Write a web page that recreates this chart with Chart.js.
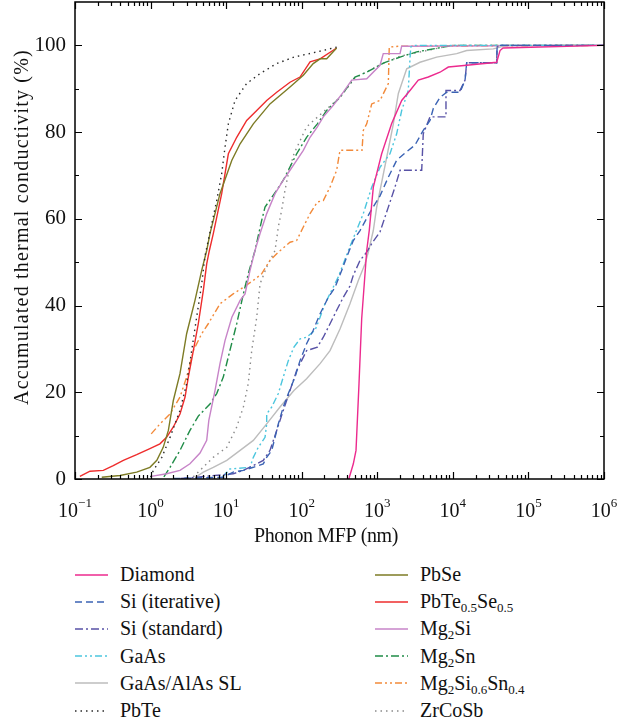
<!DOCTYPE html>
<html>
<head>
<meta charset="utf-8">
<script src="https://cdn.jsdelivr.net/npm/chart.js@4.4.1/dist/chart.umd.min.js"></script>
<style>
  body { margin: 0; background: #fff; font-family: "Liberation Serif", serif; color: #111; }
  #wrap { position: relative; width: 619px; height: 725px; }
  #chart { position: absolute; left: 0; top: 0; }
  #legend {
    position: absolute; left: 75px; top: 561px;
    display: grid; grid-template-columns: 300px 240px;
    grid-auto-flow: column; grid-template-rows: repeat(6, 27.2px);
    font-size: 20px;
  }
  .item { display: flex; align-items: center; height: 27.2px; white-space: nowrap; }
  .item svg { margin-right: 12px; flex: none; }
  sub { font-size: 13px; vertical-align: -4px; line-height: 0; }
</style>
</head>
<body>
<div id="wrap">
  <canvas id="chart" width="619" height="550"></canvas>
  <div id="legend"></div>
</div>
<script>
// ---- data: [MFP (nm), accumulated kappa (%)] ----
const diamond = [[420,0],[482,3.5],[523,6.6],[573,22],[622,37],[725,52.7],[784,57.4],[886,67.3],[1143,75],[1550,82],[2105,87.3],[2710,89.6],[3490,92],[4730,92.7],[6760,93.8],[8710,95],[15240,95.4],[38000,96.1],[42100,98.8],[46100,99.4],[1e6,100]];
const siIterative = [[2,0.1],[9.17,0.4],[12.4,1.6],[16.9,2],[22.9,2.7],[31,3.5],[34.4,5],[40.1,6.6],[44.4,9.6],[49,12.7],[57,16.6],[66.5,19.7],[81.5,23.5],[95,27.3],[116,31.2],[142,34.3],[175,38.1],[225,41.9],[276,44.2],[338,48.1],[394,51.2],[482,55],[591,57.3],[801,61.5],[1087,65.3],[1400,69.6],[1805,73.5],[2450,75.5],[3155,77],[4060,80.4],[4985,82.7],[5520,85.5],[6760,88],[8300,89.2],[12440,89.2],[14500,92],[15240,96],[38000,96],[38500,99.6],[42100,100],[1e6,100]];
const siStandard = [[2.5,0.1],[12.4,1.2],[16.9,2],[22.9,3.1],[31,4.3],[38,6.6],[46.7,11.2],[57,15.8],[70,20.4],[85.7,25],[116,29.6],[161,30.4],[193,32.7],[237,35.8],[290,38.9],[355,41.9],[435,44.5],[482,47],[591,50.4],[725,52.3],[844,54.3],[1087,57],[1400,62.7],[1714,67.3],[2000,71.2],[3870,71.2],[4060,79.6],[4985,83.5],[8110,83.5],[8110,89.6],[12440,89.6],[14500,92],[15240,96],[38000,96],[38500,99.6],[42100,100],[1e6,100]];
const gaAs = [[9,0.5],[11.2,2.3],[20.7,2.7],[22.9,5],[26.6,7.3],[32.7,9.6],[34.4,12.7],[34.4,15],[40.1,16.6],[49,19.7],[57,23.5],[66.5,27.3],[78.9,30.4],[95,32.3],[116,32.7],[150,34.3],[175,37.3],[203,40.4],[249,43.5],[305,46.6],[355,49.6],[414,52.7],[653,61.2],[844,67.3],[1087,71.9],[1473,75],[1805,79.6],[2105,85],[2570,89.6],[2710,97],[2770,99.6],[3000,100],[1e6,100]];
const gaAsAlAs = [[3.87,0.3],[4.99,1.6],[6.76,2.7],[10.2,4.3],[15.3,6.6],[22.9,8.9],[34.4,12.7],[51.6,16.6],[78.9,20.4],[116,23.1],[175,26.6],[237,29.6],[321,34.6],[435,40.4],[561,45.8],[687,49.6],[760,52.3],[886,57.3],[982,62.7],[1333,74.2],[1631,81.9],[1900,88.9],[2450,94.6],[3675,96.1],[6110,97.3],[11250,98.1],[15240,98.8],[34300,99.2],[51500,100],[1e6,100]];
const pbTe = [[1.0,0.4],[1.09,2],[1.41,5],[1.81,9.6],[2.45,15.8],[3.0,22],[3.5,29.6],[4.07,37.3],[4.75,45],[5.26,51.5],[5.8,55],[7.5,64.2],[8.73,70.4],[9.66,76.5],[10.7,81.9],[13.1,87.3],[18.7,91.2],[28.1,93.5],[46.7,95.8],[78.9,97.3],[161,98.5],[290,99.6]];
const pbSe = [[0.226,0.4],[0.394,0.8],[0.655,1.6],[0.98,2.7],[1.21,4.3],[1.47,7.3],[1.72,11.2],[2.0,18.1],[2.45,24.3],[3.0,33.5],[3.87,41.2],[4.75,48.1],[5.53,52.7],[6.11,56.6],[8.29,65.8],[11.9,73.5],[15.3,77.3],[22.9,81.9],[38,86.5],[70,90.4],[105,93.1],[142,95.8],[175,96.9],[214,96.9],[290,99.4]];
const pbTeSe = [[0.116,0.6],[0.158,1.8],[0.237,2],[0.321,3.1],[0.436,4.3],[0.655,5.6],[0.98,7],[1.33,8.1],[1.63,9.6],[2.0,12],[2.45,15],[2.86,18.9],[3.16,23.5],[3.68,29.6],[4.28,35.8],[4.99,43.5],[5.53,49.6],[6.0,52.7],[6.76,56.6],[8.73,65.8],[10.7,75],[13.8,78.8],[18.7,82.7],[25.4,85],[34.4,87.3],[46.7,89.2],[70,91.5],[95,92.7],[129,96.2],[175,96.9],[290,99.4]];
const mg2Si = [[1.02,0.6],[1.63,1.2],[2.45,2],[3.32,3.5],[4.51,6],[5.53,8.9],[5.9,13.5],[7.12,20.4],[8.29,26.6],[9.66,31.9],[11.9,37.3],[15.3,41.2],[17.8,42.7],[20.7,48.1],[24.1,52.7],[28.1,56.6],[34.4,61.2],[44.4,65.8],[57,68.9],[70,71.2],[85.7,73.5],[105,75.8],[129,78.8],[161,81.2],[193,83.5],[262,86.2],[355,89.2],[459,92],[725,92.3],[1087,95.4],[1200,98.1],[2000,98.1],[2100,99.8],[1e6,100]];
const mg2Sn = [[1.5,0.5],[1.81,2.7],[2.45,6.6],[3.32,11.2],[4.28,14.5],[6.11,17.3],[7.5,19.7],[9.17,23.5],[11.2,29.6],[13.8,35.8],[16.9,42.7],[19.6,47.3],[24.1,52.7],[29.5,59.6],[32.7,62.7],[46.7,66.6],[57,68.9],[85.7,75],[116,78.8],[161,81.9],[214,85],[321,88],[507,92.7],[725,93.8],[1200,95.9],[2000,97.3],[3325,98.5],[7480,99.6],[10000,100],[1e6,100]];
const mg2SiSn = [[1.02,10.4],[1.33,12.7],[1.81,15],[2.45,18.9],[3.0,23.5],[3.68,29.6],[4.75,33.5],[5.8,35.8],[8.29,40.4],[12.4,42.7],[16.9,44.2],[22.9,45.8],[29.5,47.3],[38,50.4],[49,52.3],[70,54.6],[85.7,55],[105,58.1],[129,61.2],[161,63.9],[193,64.2],[237,67.3],[290,71.2],[321,75.8],[628,75.8],[653,80.4],[725,81.9],[844,86.5],[1087,87.3],[1400,91.2],[1440,99.6],[1900,99.8],[1e6,100]];
const zrCoSb = [[3.68,0.5],[4.51,2],[6.76,5],[10.2,7.3],[13.8,12],[16.9,16.6],[19.6,22],[21.8,29.6],[25.4,37.3],[28.1,45],[34.4,48.9],[44.4,52.7],[49,58.1],[54.3,62],[60.1,66.6],[66.5,70.4],[78.9,75],[116,81.2],[175,84],[321,88],[507,92.5],[1087,95.5],[2000,97.5],[7480,99.6],[10000,100],[1e6,100]];

const seriesData = [diamond, siIterative, siStandard, gaAs, gaAsAlAs, pbTe, pbSe, pbTeSe, mg2Si, mg2Sn, mg2SiSn, zrCoSb];
const seriesNames = ['Diamond', 'Si (iterative)', 'Si (standard)', 'GaAs', 'GaAs/AlAs SL', 'PbTe', 'PbSe', 'PbTe0.5Se0.5', 'Mg2Si', 'Mg2Sn', 'Mg2Si0.6Sn0.4', 'ZrCoSb'];
const legendLabels = ['Diamond', 'Si (iterative)', 'Si (standard)', 'GaAs', 'GaAs/AlAs SL', 'PbTe', 'PbSe',
  'PbTe<sub>0.5</sub>Se<sub>0.5</sub>', 'Mg<sub>2</sub>Si', 'Mg<sub>2</sub>Sn', 'Mg<sub>2</sub>Si<sub>0.6</sub>Sn<sub>0.4</sub>', 'ZrCoSb'];

const xDecades = [0.1, 1, 10, 100, 1e3, 1e4, 1e5, 1e6];
const xExponents = ['\u22121', '0', '1', '2', '3', '4', '5', '6'];
const yMajor = [0, 20, 40, 60, 80, 100];
const yMinor = [10, 30, 50, 70, 90];

// ---- styles ----
const colors = ['#ec2a8e', '#3b63b4', '#5852a6', '#4cc6de', '#bdbdbd', '#2a2a2a', '#7d7b25', '#ee2c2c', '#c784c8', '#1f8c47', '#f28a3a', '#8a8a8a'];
const dashes = [[], [7, 4], [8, 3, 2, 3], [7, 3, 2, 3, 2, 3], [], [1.5, 4], [], [], [], [8, 3, 2, 3], [7, 3, 2, 3, 2, 3], [1.5, 4]];
const FONT = '"Liberation Serif", serif';

// ---- HTML legend ----
const legend = document.getElementById('legend');
legendLabels.forEach((lbl, i) => {
  const item = document.createElement('div');
  item.className = 'item';
  item.innerHTML = `<svg width="33" height="6"><line x1="0" y1="3" x2="33" y2="3" stroke="${colors[i]}" stroke-width="1.4" stroke-dasharray="${dashes[i].join(' ')}"/></svg><span>${lbl}</span>`;
  legend.appendChild(item);
});

const frame = {
  id: 'frame',
  afterDatasetsDraw(chart) {
    const { ctx, chartArea: a, scales: { x, y } } = chart;
    ctx.save();
    ctx.strokeStyle = '#000';
    ctx.lineWidth = 1.5;
    ctx.strokeRect(a.left, a.top, a.right - a.left, a.bottom - a.top);

    ctx.lineWidth = 1.2;
    ctx.beginPath();
    const xt = (v, len) => {
      const px = Math.round(x.getPixelForValue(v)) + 0.5;
      ctx.moveTo(px, a.bottom); ctx.lineTo(px, a.bottom - len);
      ctx.moveTo(px, a.top); ctx.lineTo(px, a.top + len);
    };
    const yt = (v, len) => {
      const py = Math.round(y.getPixelForValue(v)) + 0.5;
      ctx.moveTo(a.left, py); ctx.lineTo(a.left + len, py);
      ctx.moveTo(a.right, py); ctx.lineTo(a.right - len, py);
    };
    xDecades.forEach((d, i) => {
      xt(d, 7);
      if (i < xDecades.length - 1) for (let k = 2; k <= 9; k++) xt(k * d, 4);
    });
    yMajor.forEach(v => yt(v, 7));
    yMinor.forEach(v => yt(v, 4));
    ctx.stroke();

    // x tick labels 10^n
    ctx.fillStyle = '#111';
    ctx.textBaseline = 'alphabetic';
    xDecades.forEach((d, i) => {
      const px = x.getPixelForValue(d);
      ctx.font = '20px ' + FONT;
      const wb = ctx.measureText('10').width;
      ctx.font = '13px ' + FONT;
      const we = ctx.measureText(xExponents[i]).width;
      const left = px - (wb + we) / 2;
      ctx.font = '20px ' + FONT;
      ctx.textAlign = 'left';
      ctx.fillText('10', left, 517);
      ctx.font = '13px ' + FONT;
      ctx.fillText(xExponents[i], left + wb, 507);
    });

    // axis titles
    ctx.font = '20px ' + FONT;
    ctx.textAlign = 'center';
    ctx.letterSpacing = '-0.4px';
    ctx.fillText('Phonon MFP (nm)', 326, 542);
    ctx.letterSpacing = '1.2px';
    ctx.translate(28, 227);
    ctx.rotate(-Math.PI / 2);
    ctx.fillText('Accumulated thermal conductivity (%)', 0, 0);
    ctx.restore();
  }
};

function drawChart() {
  new Chart(document.getElementById('chart'), {
    type: 'line',
    data: {
      datasets: seriesData.map((pts, i) => ({
        label: seriesNames[i],
        data: pts.map(p => ({ x: p[0], y: p[1] })),
        borderColor: colors[i],
        borderWidth: 1.4,
        borderDash: dashes[i],
        pointRadius: 0,
        fill: false,
        tension: 0
      }))
    },
    options: {
      responsive: false,
      animation: false,
      layout: { padding: { top: 2, right: 15, left: 0, bottom: 0 } },
      plugins: { legend: { display: false }, tooltip: { enabled: false } },
      scales: {
        x: {
          type: 'logarithmic', min: 0.1, max: 1e6,
          grid: { display: false }, border: { display: false },
          ticks: { display: false },
          afterFit: s => { s.height = 71; s.paddingLeft = 0; s.paddingRight = 0; }
        },
        y: {
          type: 'linear', min: 0, max: 110,
          grid: { display: false, drawTicks: false }, border: { display: false },
          ticks: {
            stepSize: 20, padding: 9, color: '#111',
            font: { family: FONT, size: 21 },
            callback: v => (yMajor.includes(v) ? v : '')
          },
          afterFit: s => { s.width = 75; s.paddingTop = 0; s.paddingBottom = 0; }
        }
      }
    },
    plugins: [frame]
  });
}

document.fonts.load('20px "Liberation Serif"').then(drawChart, drawChart);
</script>
</body>
</html>
